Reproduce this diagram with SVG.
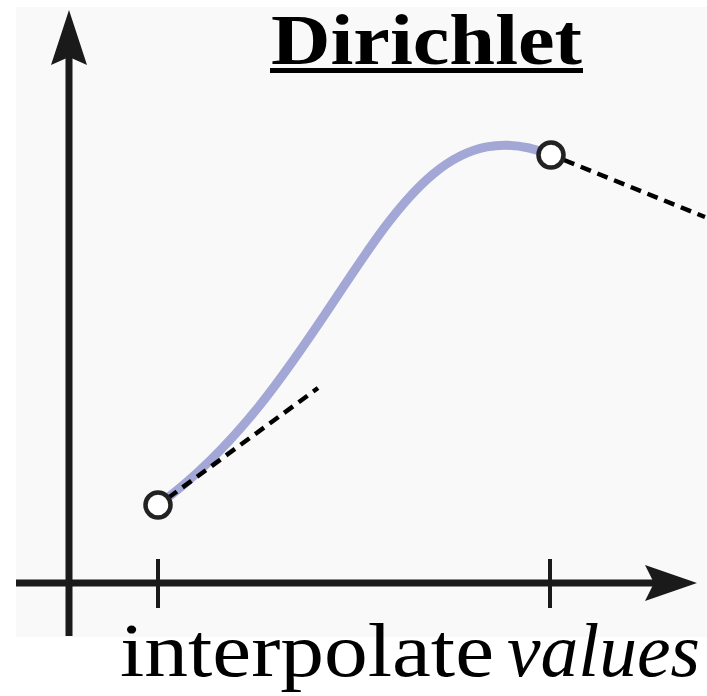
<svg xmlns="http://www.w3.org/2000/svg" width="707" height="696" viewBox="0 0 707 696">
<style>
.axis{stroke:#1a1a1a;stroke-width:7;fill:none}
.tick{stroke:#1a1a1a;stroke-width:4;fill:none}
.dash{stroke:#000;stroke-width:4.5;stroke-dasharray:11 7;fill:none}
.curve{stroke:#a3a7d6;stroke-width:9;fill:none;stroke-linecap:round}
.pt{fill:#fff;stroke:#222;stroke-width:4.5}
.serif{font-family:"Liberation Serif","DejaVu Serif",serif;fill:#000}
</style>
<rect x="0" y="0" width="707" height="696" fill="#fff"/>
<rect x="16" y="7" width="691" height="630" fill="#f9f9f9"/>
<g id="axes">
<line class="axis" x1="69" y1="636" x2="69" y2="50"/>
<path d="M69,10 L87,65 L69,57 L51,65 Z" fill="#1a1a1a"/>
<line class="axis" x1="16" y1="583" x2="655" y2="583"/>
<path d="M697,583 L645,601 L654,583 L645,565 Z" fill="#1a1a1a"/>
<line class="tick" x1="158" y1="559" x2="158" y2="608"/>
<line class="tick" x1="550" y1="559" x2="550" y2="608"/>
</g>
<g id="curve">
<path class="curve" d="M158,505 C350,365 390,90 551,155"/>
</g>
<g id="connectors">
<line class="dash" x1="168" y1="498" x2="318" y2="388"/>
<line class="dash" x1="564" y1="160" x2="705" y2="217"/>
</g>
<g id="p1"><circle class="pt" cx="158" cy="505" r="12.5"/></g>
<g id="p2"><circle class="pt" cx="551" cy="155" r="12.5"/></g>
<g id="title">
<text class="serif" x="271" y="64" font-size="72" font-weight="bold" textLength="311" lengthAdjust="spacingAndGlyphs">Dirichlet</text>
<rect x="270" y="68" width="313" height="5" fill="#000"/>
</g>
<g id="label">
<text class="serif" x="120" y="676" font-size="76" textLength="374" lengthAdjust="spacingAndGlyphs">interpolate</text>
<text class="serif" x="507" y="676" font-size="76" font-style="italic" textLength="193" lengthAdjust="spacingAndGlyphs">values</text>
</g>
</svg>
